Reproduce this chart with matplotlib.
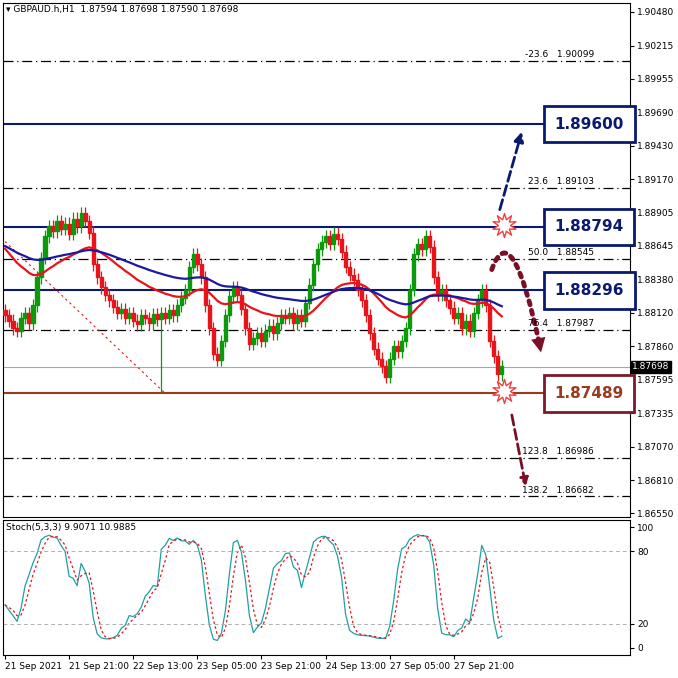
import numpy as np
import pandas as pd
import matplotlib.pyplot as plt
from matplotlib.patches import Rectangle, FancyArrowPatch
from matplotlib.path import Path

# hourly closes
closes = [1.8810, 1.8806, 1.8800, 1.8798, 1.8808, 1.8812, 1.8804, 1.8818, 1.8840,
          1.8855, 1.8872, 1.8880, 1.8876, 1.8884, 1.8878, 1.8882, 1.8874, 1.8886, 1.8880, 1.8890, 1.8884, 1.8875, 1.8850,
          1.8840, 1.8832, 1.8826, 1.8822, 1.8817, 1.8812, 1.8815, 1.8808, 1.8812, 1.8806, 1.8803, 1.8810, 1.8808, 1.8804, 1.8811, 1.8807, 1.8812,
          1.8808, 1.8814, 1.8810, 1.8818, 1.8824, 1.8830, 1.8848, 1.8858,
          1.8850, 1.8840, 1.8818, 1.8800, 1.8780, 1.8775, 1.8790, 1.8810, 1.8825, 1.8832,
          1.8826, 1.8815, 1.8800, 1.8788, 1.8792, 1.8796, 1.8790, 1.8798, 1.8802, 1.8796, 1.8804, 1.8810, 1.8808, 1.8812, 1.8804, 1.8810, 1.8806, 1.8820, 1.8834,
          1.8850, 1.8862, 1.8868, 1.8872, 1.8866, 1.8874, 1.8870, 1.8860, 1.8848, 1.8842,
          1.8838, 1.8830, 1.8822, 1.8810, 1.8796, 1.8784, 1.8776, 1.8770, 1.8762, 1.8776, 1.8786,
          1.8782, 1.8790, 1.8800, 1.8830, 1.8858, 1.8866, 1.8862, 1.8872, 1.8864,
          1.8840, 1.8826, 1.8830, 1.8822, 1.8816, 1.8808, 1.8812, 1.8800, 1.8806, 1.8798,
          1.8812, 1.8822, 1.8830, 1.8818, 1.8790, 1.8778, 1.8764, 1.8770]
first_open = 1.8814
long_wick_idx = 39
long_wick_low = 1.87489

levels_blue = [1.89600, 1.88794, 1.88296]
level_support = 1.87489
last_price = 1.87698
fib_names = ["-23.6", "23.6", "50.0", "76.4", "123.8", "138.2"]
fib_levels = [1.90099, 1.89103, 1.88545, 1.87987, 1.86986, 1.86682]
price_ticks = [1.90480, 1.90215, 1.89955, 1.89690, 1.89430, 1.89170, 1.88905, 1.88645,
               1.88380, 1.88120, 1.87860, 1.87595, 1.87335, 1.87070, 1.86810, 1.86550]
time_labels = ["21 Sep 2021", "21 Sep 21:00", "22 Sep 13:00", "23 Sep 05:00",
               "23 Sep 21:00", "24 Sep 13:00", "27 Sep 05:00", "27 Sep 21:00"]

c = np.array(closes)
o = np.r_[first_open, c[:-1]]
h = np.maximum(o, c) + 0.0005
l = np.minimum(o, c) - 0.0005
l[long_wick_idx] = long_wick_low
x = np.arange(len(c))

fig = plt.figure(figsize=(6.78, 6.78), dpi=100)
ax = fig.add_axes([3/678, 161/678, 627/678, 514/678])
ax2 = fig.add_axes([3/678, 23/678, 627/678, 135/678])

for i in x:
    col = '#0c9a0c' if c[i] >= o[i] else '#e8141a'
    ax.vlines(i, l[i], h[i], color=col, lw=0.9, zorder=3)
    ax.add_patch(Rectangle((i - 0.4, min(o[i], c[i])), 0.8,
                           max(abs(c[i] - o[i]), 0.00004), color=col, zorder=4))

s = pd.Series(np.r_[[1.8866] * 40, c])
red = s.ewm(span=30, adjust=False).mean().values[40:]
blue = s.ewm(span=70, adjust=False).mean().values[40:]
ax.plot(x, red, color='#e8141a', lw=1.6, zorder=5)
ax.plot(x, blue, color='#1a1aa0', lw=1.6, zorder=5)

xmax = 156
for lv in levels_blue:
    ax.axhline(lv, color='#0a1a6e', lw=1.5, zorder=2)
ax.axhline(level_support, color='#9b3a1e', lw=1.5, zorder=2)
ax.axhline(last_price, color='#a0a8b0', lw=0.8, zorder=1)
for nm, lv in zip(fib_names, fib_levels):
    ax.axhline(lv, color='black', lw=0.9, ls=(0, (8, 3, 1, 3)), zorder=1)
    ax.text(147, lv + 0.00012, f"{nm}   {lv:.5f}", fontsize=6.5, ha='right', va='bottom')

ax.plot([0, 40], [1.8868, long_wick_low], color='#e8141a', lw=0.8, ls=(0, (2, 3)))

# level boxes
for lv, ec, tc in [(1.89600, '#0a1a6e', '#0a1a6e'), (1.88794, '#0a1a6e', '#0a1a6e'),
                   (1.88296, '#0a1a6e', '#0a1a6e'), (1.87489, '#7a1a2a', '#9b3a1e')]:
    ax.text(145.8, lv, f"{lv:.5f}", fontsize=11, fontweight='bold', color=tc, ha='center', va='center',
            zorder=8, bbox=dict(boxstyle='square,pad=0.7', fc='white', ec=ec, lw=2))

# arrows and bursts
ax.annotate('', xy=(129, 1.8954), xytext=(123.5, 1.8893),
            arrowprops=dict(arrowstyle='-|>', color='#0a1a6e', lw=2, ls='--', mutation_scale=14,
                            shrinkA=0, shrinkB=0))
curve = Path([(121.5, 1.8846), (126.5, 1.8890), (133.5, 1.8786)],
             [Path.MOVETO, Path.CURVE3, Path.CURVE3])
ax.add_patch(FancyArrowPatch(path=curve, arrowstyle='-', color='#7a1028', lw=3.5, ls=(0, (0.8, 1.2))))
ax.annotate('', xy=(133.8, 1.8781), xytext=(132.6, 1.8800),
            arrowprops=dict(arrowstyle='-|>', color='#7a1028', lw=0, mutation_scale=26,
                            shrinkA=0, shrinkB=0))
ax.annotate('', xy=(130, 1.8676), xytext=(126.5, 1.8732),
            arrowprops=dict(arrowstyle='-|>', color='#7a1028', lw=2, ls='--', mutation_scale=12,
                            shrinkA=0, shrinkB=0))
for yb in [1.8881, 1.8751]:
    ax.scatter([124.5], [yb], marker=(10, 1, 0), s=300, fc='white', ec='#f04040', lw=1, zorder=9)

ax.set_xlim(-0.5, xmax)
ax.set_ylim(1.8652, 1.9055)
ax.yaxis.tick_right()
ax.set_yticks(price_ticks)
ax.set_yticklabels([f"{t:.5f}" for t in price_ticks], fontsize=6.5)
ax.set_xticks([])
ax.tick_params(axis='y', length=3, pad=2)
ax.text(0.005, 0.997, "\u25be GBPAUD.h,H1  1.87594 1.87698 1.87590 1.87698", transform=ax.transAxes,
        fontsize=6.5, va='top')
ax.text(xmax + 0.5, last_price, "1.87698", fontsize=6.5, color='white', va='center',
        bbox=dict(boxstyle='square,pad=0.15', fc='black', ec='black'), clip_on=False)

# stochastic 5,3,3
hh = pd.Series(h).rolling(5, min_periods=1).max()
ll = pd.Series(l).rolling(5, min_periods=1).min()
num = (pd.Series(c) - ll).rolling(3, min_periods=1).sum()
den = (hh - ll).rolling(3, min_periods=1).sum()
k = 100 * num / den
d = k.rolling(3, min_periods=1).mean()
ax2.plot(x, k, color='#20a0a0', lw=0.9)
ax2.plot(x, d, color='#e8141a', lw=0.9, ls=(0, (2, 2)))
for lv in [20, 80]:
    ax2.axhline(lv, color='#b0b0b0', lw=0.7, ls=(0, (4, 3)))
ax2.set_xlim(-0.5, xmax)
ax2.set_ylim(-5.8, 106)
ax2.yaxis.tick_right()
ax2.set_yticks([0, 20, 80, 100])
ax2.tick_params(axis='y', labelsize=6.5, length=3, pad=2)
ax2.set_xticks(np.arange(len(time_labels)) * 16)
ax2.set_xticklabels(time_labels, fontsize=6.5, ha='left')
ax2.tick_params(axis='x', length=3, pad=2)
ax2.text(0.005, 0.98, "Stoch(5,3,3) 9.9071 10.9885", transform=ax2.transAxes, fontsize=6.5, va='top')

fig.savefig('out.png', dpi=100)
